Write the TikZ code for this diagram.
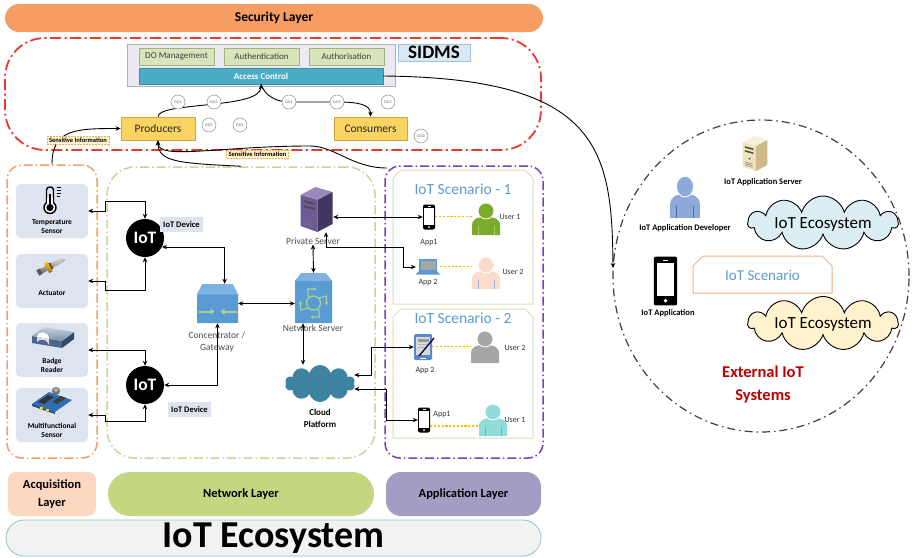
\documentclass[tikz,border=0pt]{standalone}
\usepackage{fontspec}
\setmainfont{Carlito}
\usetikzlibrary{arrows.meta,shapes.misc,shapes.symbols,shapes.geometric,calc}

% palette
\definecolor{secorange}{HTML}{F59D62}
\definecolor{secred}{HTML}{E8392F}
\definecolor{sidmsfill}{HTML}{EDE9F2}
\definecolor{sidmsbord}{HTML}{A8B5A8}
\definecolor{modfill}{HTML}{D8E4BC}
\definecolor{modbord}{HTML}{9FB47E}
\definecolor{acfill}{HTML}{4BACC6}
\definecolor{acbord}{HTML}{3A8FA6}
\definecolor{tagfill}{HTML}{DAE8F3}
\definecolor{tagbord}{HTML}{9DC3E6}
\definecolor{rolefill}{HTML}{FAD463}
\definecolor{rolebord}{HTML}{CFA740}
\definecolor{docirc}{HTML}{8C8C8C}
\definecolor{infofill}{HTML}{FFF2CC}
\definecolor{infobord}{HTML}{F5B042}
\definecolor{acqline}{HTML}{F79F6B}
\definecolor{netline}{HTML}{C3D69B}
\definecolor{appline}{HTML}{7B3FB8}
\definecolor{devfill}{HTML}{DDE4EF}
\definecolor{netblue}{HTML}{5B9BD5}
\definecolor{netbluelt}{HTML}{7FB2E0}
\definecolor{arrgreen}{HTML}{A9D18E}
\definecolor{cloudteal}{HTML}{3E84A2}
\definecolor{scenbord}{HTML}{D6E1BC}
\definecolor{titleblue}{HTML}{5B9BD5}
\definecolor{linkgold}{HTML}{FFC000}
\definecolor{ugreen}{HTML}{7AAB2B}
\definecolor{ugreenln}{HTML}{A8CF6A}
\definecolor{upeach}{HTML}{FBDCCB}
\definecolor{upeachln}{HTML}{9DB4D8}
\definecolor{ugray}{HTML}{A6A6A6}
\definecolor{ugrayln}{HTML}{8FA9D0}
\definecolor{ucyan}{HTML}{8FDCD8}
\definecolor{ucyanln}{HTML}{6FA8D0}
\definecolor{devblue}{HTML}{8EAADB}
\definecolor{devblueln}{HTML}{4A6A9A}
\definecolor{lapblue}{HTML}{5B9BD5}
\definecolor{tabblue}{HTML}{5A8AC6}
\definecolor{pstop}{HTML}{9A89BD}
\definecolor{psfront}{HTML}{6E5A96}
\definecolor{psside}{HTML}{44365F}
\definecolor{bgtop}{HTML}{F7F0DA}
\definecolor{bgfront}{HTML}{EFE3BE}
\definecolor{bgside}{HTML}{CDB98A}
\definecolor{badgetop}{HTML}{9CB3CF}
\definecolor{badgefront}{HTML}{47678C}
\definecolor{badgeside}{HTML}{2E4A6B}
\definecolor{pcbblue}{HTML}{2F6DB5}
\definecolor{acqfill}{HTML}{FCD8C2}
\definecolor{netfill}{HTML}{C4D680}
\definecolor{appfill}{HTML}{A29DC2}
\definecolor{ecofill}{HTML}{F2F2F2}
\definecolor{ecobord}{HTML}{84C8CC}
\definecolor{extline}{HTML}{404040}
\definecolor{cloudblue}{HTML}{DBEEF4}
\definecolor{cloudcream}{HTML}{FFF2CC}
\definecolor{scenpeach}{HTML}{F4B183}
\definecolor{extred}{HTML}{C00000}

\newcommand{\fsz}[2]{\fontsize{#1}{#2}\selectfont}

% top-snipped frame: [style]{x1}{y1}{x2}{y2}{cut}
\newcommand{\snipframe}[6][]{%
  \draw[#1] (#2,#5) -- (#2,#3+#6) -- (#2+#6,#3) -- (#4-#6,#3) -- (#4,#3+#6) -- (#4,#5) -- cycle;}

% handset
\newcommand{\phoneglyph}[2][1]{%
  \begin{scope}[shift={(#2)},scale=#1]
    \fill[black,rounded corners=2pt] (-6,-12.5) rectangle (6,12.5);
    \fill[white] (-4.6,-9) rectangle (4.6,7.6);
    \fill[white] (0,10.1) circle (1);
    \fill[white] (-1.5,-10.9) rectangle (1.5,-10.2);
  \end{scope}}

% user silhouette: [transform]{fill}{detail}{centre}
\newcommand{\personglyph}[4][]{%
  \begin{scope}[shift={(#4)},#1]
    \fill[#2] (-14,16) -- (-14,7) .. controls (-14,-1) and (-8,-2) .. (0,-2)
      .. controls (8,-2) and (14,-1) .. (14,7) -- (14,16) -- cycle;
    \draw[#3,line width=0.6pt] (-8,7) -- (-8,16) (8,7) -- (8,16);
    \fill[#2,draw=white,line width=0.8pt] (0,-8) circle (8);
  \end{scope}}

% notebook computer
\newcommand{\laptopglyph}[1]{%
  \begin{scope}[shift={(#1)}]
    \fill[lapblue] (-9,-8) rectangle (9,4);
    \fill[black!35] (-7.5,-6.5) rectangle (7.5,2.6);
    \fill[lapblue] (-9,4) -- (9,4) -- (12,7.5) -- (-12,7.5) -- cycle;
  \end{scope}}

% pen tablet
\newcommand{\tabletglyph}[1]{%
  \begin{scope}[shift={(#1)}]
    \fill[tabblue,rounded corners=1.5pt] (-9,-13) rectangle (9,13);
    \fill[black!15] (-7,-10) rectangle (7,8);
    \fill[black!40] (-5.5,-8.5) rectangle (5.5,-5);
    \fill[black!30] (-5.5,-3.5) rectangle (5.5,-2);
    \fill[black!30] (-5.5,-0.5) rectangle (2,1);
    \fill[white] (-3,10.5) rectangle (3,11.5);
    \draw[black!70!blue,line width=1.3pt] (-4,9) -- (11,-9);
  \end{scope}}

% tower server: {centre}{top}{front}{side}{scale}
\newcommand{\towerglyph}[5]{%
  \begin{scope}[shift={(#1)},scale=#5]
    \fill[#2] (-16,-15) -- (1,-10) -- (16,-18) -- (-1,-23) -- cycle;
    \fill[#3] (-16,-15) -- (1,-10) -- (1,22) -- (-16,16) -- cycle;
    \fill[#4] (1,-10) -- (16,-18) -- (16,14) -- (1,22) -- cycle;
    \fill[black!70] (-13,-10) -- (-2,-7) -- (-2,-5) -- (-13,-8) -- cycle;
    \fill[black!70] (-13,-5) -- (-2,-2) -- (-2,0) -- (-13,-3) -- cycle;
    \fill[black!60] (-7,6) circle (1.5);
    \draw[black!55,line width=0.4pt] (-13,10) -- (-3,13) (-13,12) -- (-3,15) (-13,14) -- (-3,17);
  \end{scope}}

\tikzset{
  region/.style={inner sep=0pt,line width=1.5pt,dash pattern=on 9pt off 3pt on 1.5pt off 3pt},
  modbox/.style={draw=modbord,fill=modfill,line width=0.6pt,minimum width=75pt,minimum height=17pt,
    inner sep=0pt,text=black!75,font=\fsz{9}{10}},
  rolebox/.style={draw=rolebord,fill=rolefill,line width=0.7pt,minimum width=74pt,minimum height=23pt,
    inner sep=0pt,text=black!85,font=\fsz{11.5}{12}},
  dotoken/.style={circle,draw=docirc,fill=white,line width=0.5pt,minimum size=14pt,inner sep=0pt,
    text=black!60,font=\fsz{4}{4}},
  infotag/.style={draw=infobord,fill=infofill,line width=0.6pt,dash pattern=on 2pt off 1pt,
    inner xsep=2pt,inner ysep=1.5pt,font=\bfseries\fsz{6.5}{7}},
  sensorbox/.style={fill=devfill,rounded corners=5pt,minimum width=72pt,minimum height=54pt,inner sep=0pt},
  senslabel/.style={inner sep=0pt,align=center,font=\bfseries\fsz{7.5}{9}},
  iotdot/.style={circle,fill=black,minimum size=38pt,inner sep=0pt,text=white,font=\bfseries\fsz{17.5}{18}},
  devtag/.style={fill=devfill,minimum height=15pt,inner xsep=3pt,inner ysep=0pt,font=\bfseries\fsz{8.5}{9}},
  graylabel/.style={inner sep=0pt,align=center,text=black!70,font=\fsz{9.5}{12}},
  blacklabel/.style={inner sep=0pt,align=center,font=\bfseries\fsz{9}{12}},
  small/.style={inner sep=0pt,text=black!80,font=\fsz{8}{9}},
  frame/.style={inner sep=0pt},
  wire/.style={line width=0.9pt},
  link/.style={wire,<->},
  goldlink/.style={draw=linkgold,line width=1.3pt,dash pattern=on 2.2pt off 1.6pt},
  scentitle/.style={inner sep=0pt,text=titleblue,font=\fsz{15.5}{16}},
  layerbar/.style={inner sep=0pt,align=center,minimum height=44pt,font=\bfseries\fsz{12.5}{18}},
  extlabel/.style={inner sep=0pt,align=center,font=\bfseries\fsz{8.5}{10}},
  bigcloud/.style={cloud,cloud puffs=11,cloud ignores aspect,draw=black,line width=0.9pt,
    minimum width=150pt,minimum height=54pt,inner sep=0pt},
}

\begin{document}
\begin{tikzpicture}[x=1pt,y=-1pt,>={Stealth[length=5pt,width=4.5pt]}]
\useasboundingbox (0,0) rectangle (912,557);
\fill[white] (0,0) rectangle (912,557);

% ---------- security layer ----------
\node[fill=secorange,rounded corners=14pt,minimum width=538pt,minimum height=28pt,inner sep=0pt,
  font=\bfseries\fsz{13.5}{14}] (seclayer) at (274,18) {Security Layer};
\node[region,draw=secred,line width=1.8pt,dash pattern=on 11pt off 3.5pt on 2pt off 3.5pt,
  rounded corners=40pt,minimum width=536pt,minimum height=112pt] (secreg) at (273,94) {};

\node[draw=sidmsbord,fill=sidmsfill,line width=0.8pt,minimum width=268pt,minimum height=42pt,
  inner sep=0pt] (sidms) at (261,65) {};
\node[modbox] (dom) at (176.5,56.5) {DO Management};
\node[modbox] (auth) at (261.5,56.5) {Authentication};
\node[modbox] (authz) at (346.5,56.5) {Authorisation};
\node[draw=acbord,fill=acfill,minimum width=244pt,minimum height=16pt,inner sep=0pt,text=white,
  font=\bfseries\fsz{9}{10}] (ac) at (261,76) {Access Control};
\node[draw=tagbord,fill=tagfill,minimum width=72pt,minimum height=17pt,inner sep=0pt,
  font=\bfseries\fsz{19}{19}] (sidmstag) at (434,52.5) {SIDMS};

\node[rolebox] (prod) at (158,128.5) {Producers};
\node[rolebox,minimum width=73pt] (cons) at (370.5,128.5) {Consumers};

% ---------- layer regions ----------
\node[region,draw=acqline,rounded corners=15pt,minimum width=90pt,minimum height=293pt] (acq) at (52,311.5) {};
\node[region,draw=netline,rounded corners=28pt,minimum width=268pt,minimum height=291pt] (net) at (241,312.5) {};
\node[region,draw=appline,rounded corners=15pt,minimum width=158pt,minimum height=292pt] (app) at (464,312) {};
\coordinate (appcorner) at (387,168);

% ---------- flows in the security layer ----------
\draw[wire,->] (prod.north) .. controls +(0,-15) and +(0,25) .. (ac.south);
\draw[wire] (ac.south) .. controls +(4,12) and +(-12,0) .. (289,102);
\draw[wire,->] (289,102) -- (337,102) .. controls +(22,0) and +(0,-12) .. (cons.north);
\draw[wire,->] (acq.north) .. controls +(0,-35) and +(-45,0) .. (prod.west);
\draw[wire,->] (net.north) .. controls +(-60,-3) and +(0,22) .. (prod.south);
\draw[wire,->] (appcorner) .. controls +(-35,0) and +(25,0) .. (310,146)
  .. controls +(-90,0) and +(0,20) .. (prod.south);

\node[dotoken] (doa) at (178,102) {DO1};
\node[dotoken] (dob) at (214,102) {DO3};
\node[dotoken] (doc) at (289,102) {DO1};
\node[dotoken] (dod) at (337,102) {DO3};
\node[dotoken] (doe) at (388,102) {DO2};
\node[dotoken] (dof) at (209,125) {DO2};
\node[dotoken] (dog) at (240,125) {DO4};
\node[dotoken] (doh) at (421,136) {DO2};

\node[infotag] (info1) at (78,140.5) {Sensitive Information};
\node[infotag] (info2) at (257.5,154) {Sensitive Information};

% ---------- acquisition layer ----------
\node[sensorbox] (temp) at (52,211) {};
\node[sensorbox] (act) at (52,281) {};
\node[sensorbox] (badge) at (52,350) {};
\node[sensorbox] (multi) at (52,415) {};
\node[senslabel] (templ) at (52,227) {Temperature\\Sensor};
\node[senslabel] (actl) at (52,293) {Actuator};
\node[senslabel] (badgel) at (52,365) {Badge\\Reader};
\node[senslabel] (multil) at (52,430) {Multifunctional\\Sensor};

% thermometer
\begin{scope}[shift={(50,199)}]
  \draw[line width=1.4pt,rounded corners=3pt] (-3.5,4) -- (-3.5,-12) -- (3.5,-12) -- (3.5,4);
  \draw[line width=1.4pt,fill=white] (0,8.5) circle (6);
  \fill[white] (-2.8,-1) rectangle (2.8,4.5);
  \fill (0,8.5) circle (3.6);
  \fill (-1.3,-5) rectangle (1.3,8);
  \draw[line width=1pt] (6.5,-12) -- (10.5,-12) (6.5,-9) -- (10.5,-9) (6.5,-6) -- (10.5,-6) (6.5,-3) -- (9.5,-3);
\end{scope}
% actuator
\begin{scope}[shift={(51,266)},rotate=28]
  \shade[top color=black!15,bottom color=black!60] (-14,-2.5) rectangle (12,2.5);
  \fill[black!65] (-15,-3) rectangle (-11,3);
  \shade[top color=black!10,bottom color=black!45] (12,-1.8) rectangle (15.5,1.8);
  \shade[top color=yellow!60!orange,bottom color=brown!80!black] (-5,-5.5) rectangle (-1,5.5);
  \fill[brown!60!black] (-1,-3.5) rectangle (1,3.5);
\end{scope}
% badge reader
\begin{scope}[shift={(53,339)}]
  \fill[badgefront] (-21,-3) -- (9,2) -- (9,9) -- (-21,4) -- cycle;
  \fill[badgeside] (9,2) -- (21,-7) -- (21,0) -- (9,9) -- cycle;
  \shade[top color=badgetop!60!white,bottom color=badgetop!80!black] (-21,-3) -- (-9,-12) -- (21,-7) -- (9,2) -- cycle;
  \fill[white] (-16,-2.2) .. controls (-15,-9) and (-4,-8) .. (-4,0) -- cycle;
  \fill[white!85!black] (-16,-2.2) -- (-4,0) -- (-4,6) .. controls (-6,0) and (-13,-1) .. (-16,3) -- cycle;
\end{scope}
% multifunctional board
\begin{scope}[shift={(52,401)}]
  \fill[pcbblue] (-20,3) -- (-3,-9) -- (20,-1) -- (3,11) -- cycle;
  \fill[pcbblue!70!black] (-20,3) -- (3,11) -- (3,13) -- (-20,5) -- cycle;
  \fill[black!80] (-14,1) -- (-4,-6) -- (2,-4) -- (-8,3) -- cycle;
  \fill[black!75] (0,1) -- (9,-5) -- (14,-3) -- (5,3) -- cycle;
  \fill[black!55] (4,-10) circle (4);
  \fill[black!30] (4,-11) circle (2);
  \fill[yellow!80!orange] (-12,6) rectangle (-9,7.5);
  \fill[yellow!80!orange] (-6,8) rectangle (-3,9.5);
\end{scope}

% ---------- network layer ----------
\node[iotdot] (iot1) at (145,238) {IoT};
\node[iotdot] (iot2) at (145,385) {IoT};
\node[devtag] (dev1) at (181.5,224.5) {IoT Device};
\node[devtag] (dev2) at (189.5,409.5) {IoT Device};

\node[frame,minimum width=41pt,minimum height=39pt] (conc) at (217.5,303.5) {};
\node[frame,minimum width=37pt,minimum height=50pt] (ns) at (313.5,298) {};
\node[frame,minimum width=33pt,minimum height=44pt] (ps) at (316.5,210) {};
\node[cloud,cloud puffs=10,cloud ignores aspect,fill=cloudteal,minimum width=70pt,minimum height=37pt,
  inner sep=0pt] (cloud) at (320,383.5) {};

% concentrator / gateway
\begin{scope}[shift={(conc.center)}]
  \fill[netblue] (-20.5,19.5) -- (-20.5,-9) -- (-15,-19.5) -- (15,-19.5) -- (20.5,-9) -- (20.5,19.5) -- cycle;
  \fill[netbluelt] (-20.5,-9) -- (-15,-19.5) -- (15,-19.5) -- (20.5,-9) -- cycle;
  \draw[arrgreen,line width=2pt,-{Triangle[length=4pt,width=6.5pt]}] (-19,8) -- (-3,8);
  \draw[arrgreen,line width=2pt,-{Triangle[length=4pt,width=6.5pt]}] (19,8) -- (3,8);
\end{scope}
% network server
\begin{scope}[shift={(ns.center)}]
  \fill[netblue] (-18.5,25) -- (-18.5,-17) -- (-12,-25) -- (12,-25) -- (18.5,-17) -- (18.5,25) -- cycle;
  \fill[netbluelt] (-18.5,-17) -- (-12,-25) -- (12,-25) -- (18.5,-17) -- cycle;
  \draw[arrgreen,line width=1.3pt] (0,5) circle (7);
  \draw[arrgreen,line width=1.1pt,-{Stealth[length=3pt,width=3.5pt]}] (-5,0) -- (-6,-9) -- (3,-9);
  \draw[arrgreen,line width=1.1pt,-{Stealth[length=3pt,width=3.5pt]}] (5,0) -- (13,-2) -- (13,7);
  \draw[arrgreen,line width=1.1pt,-{Stealth[length=3pt,width=3.5pt]}] (5,10) -- (6,19) -- (-3,19);
  \draw[arrgreen,line width=1.1pt,-{Stealth[length=3pt,width=3.5pt]}] (-5,10) -- (-13,12) -- (-13,3);
\end{scope}
% private server
\towerglyph{ps.center}{pstop}{psfront}{psside}{1}

\node[graylabel] (concl) at (217,342) {Concentrator /\\Gateway};
\node[graylabel] (nsl) at (313,328) {Network Server};
\node[graylabel] (psl) at (313,241) {Private Server};
\node[blacklabel] (cloudl) at (320,418) {Cloud\\Platform};

% links between devices and sensors
\draw[link] (temp.east) -- ++(17,0) -- ++(0,-10) -| (iot1.north);
\draw[link] (act.east) -- ++(17,0) -- ++(0,9) -| (iot1.south);
\draw[link] (badge.east) -| (iot2.north);
\draw[link] (multi.east) -- ++(17,0) -- ++(0,6) -| (iot2.south);
% links inside the network layer
\draw[link] (iot1.-28) -| (conc.70);
\draw[link] (iot2.east) -| (conc.south);
\draw[link] (conc.east) -- (conc.east -| ns.west);
\draw[link] (psl.south) -- (ns.north);
\draw[link] ([xshift=-10.5pt]ns.south) -- ([xshift=-10.5pt]ns.south |- cloud.north);

% ---------- application layer ----------
\snipframe[draw=scenbord,line width=1pt,fill=white]{393}{170}{533}{304}{8}
\snipframe[draw=scenbord,line width=1pt,fill=white]{393}{309}{533}{438}{8}
\node[scentitle] (sc1) at (463,189) {IoT Scenario - 1};
\node[scentitle] (sc2) at (463,318) {IoT Scenario - 2};

\node[frame,minimum width=12pt,minimum height=25pt] (appa) at (429,217) {};
\node[frame,minimum width=24pt,minimum height=16pt] (appb) at (428,267) {};
\node[frame,minimum width=18pt,minimum height=26pt] (appc) at (423,347) {};
\node[frame,minimum width=12pt,minimum height=25pt] (appd) at (424,420) {};
\node[frame,minimum width=28pt,minimum height=32pt] (usera) at (486,219) {};
\node[frame,minimum width=28pt,minimum height=32pt] (userb) at (486,273) {};
\node[frame,minimum width=28pt,minimum height=32pt] (userc) at (485,347) {};
\node[frame,minimum width=28pt,minimum height=32pt] (userd) at (493,420) {};

\draw[goldlink] ([yshift=0.5pt]appa.east) -- ([yshift=0.5pt]appa.east -| usera.west);
\draw[goldlink] ([yshift=0.5pt]appb.east) -- ([yshift=0.5pt]appb.east -| userb.west);
\draw[goldlink] ([yshift=0.5pt]appc.east) -- ([yshift=0.5pt]appc.east -| userc.west);
\draw[goldlink] ([yshift=-6pt]appd.east) -- ([yshift=-6pt]appd.east -| userd.west);

\phoneglyph{appa.center}
\laptopglyph{appb.center}
\tabletglyph{appc.center}
\phoneglyph{appd.center}
\personglyph{ugreen}{ugreenln}{usera.center}
\personglyph{upeach}{upeachln}{userb.center}
\personglyph{ugray}{ugrayln}{userc.center}
\personglyph{ucyan}{ucyanln}{userd.center}

\node[small] (appal) at (429,243) {App1};
\node[small] (appbl) at (428,283) {App 2};
\node[small] (appcl) at (425,371) {App 2};
\node[small] (appdl) at (442,415) {App1};
\node[small] (useral) at (510,217) {User 1};
\node[small] (userbl) at (513,272) {User 2};
\node[small] (usercl) at (515,348) {User 2};
\node[small] (userdl) at (515,420) {User 1};

\draw[link] (ps.east |- appa.west) -- (appa.west);
\draw[link] ([xshift=9.5pt]ps.south) -- ++(0,15) -- ++(77,0) |- (appb.west);
\draw[link] ([yshift=8.5pt]cloud.east) -- ++(17,0) |- (appc.west);
\draw[link] ([yshift=-5.5pt]cloud.east) -- ++(32,0) |- (appd.west);

% ---------- layer captions ----------
\node[layerbar,fill=acqfill,rounded corners=8pt,minimum width=88pt] (acqbar) at (52,494) {Acquisition\\Layer};
\node[layerbar,fill=netfill,rounded corners=22pt,minimum width=266pt] (netbar) at (241,494) {Network Layer};
\node[layerbar,fill=appfill,rounded corners=15pt,minimum width=155pt] (appbar) at (463.5,494) {Application Layer};
\node[draw=ecobord,fill=ecofill,line width=0.8pt,rounded corners=18pt,minimum width=535pt,minimum height=36pt,
  inner sep=0pt,font=\bfseries\fsz{38}{38}] (eco) at (273.5,538) {IoT Ecosystem};

% ---------- external IoT systems ----------
\node[ellipse,draw=extline,line width=1.2pt,dash pattern=on 8pt off 4pt on 1.5pt off 4pt,
  minimum width=296pt,minimum height=312pt,inner sep=0pt] (ext) at (761,276) {};
\coordinate (extin) at (613,268);
\draw[wire,->] (ac.east) .. controls (600,78) and (612,150) .. (extin);

\node[frame,minimum width=23pt,minimum height=38pt] (appsrv) at (755,154) {};
\towerglyph{appsrv.center}{bgtop}{bgfront}{bgside}{0.78}
\node[extlabel] (appsrvl) at (763,182) {IoT Application Server};

\node[frame,minimum width=30pt,minimum height=43pt] (devp) at (685,197) {};
\personglyph[xscale=1.07,yscale=1.3]{devblue}{devblueln}{devp.center}
\node[extlabel] (devpl) at (685,228) {IoT Application Developer};

\node[frame,minimum width=25pt,minimum height=48pt] (iotapp) at (665.5,281) {};
\phoneglyph[1.95]{iotapp.center}
\node[extlabel] (iotappl) at (668,313) {IoT Application};

\node[bigcloud,fill=cloudblue] (ecoa) at (823,223) {};
\node[inner sep=0pt,font=\fsz{17}{17}] (ecoal) at (823,224) {IoT Ecosystem};
\snipframe[draw=scenpeach,line width=1pt,fill=white]{693}{256}{832}{293}{10}
\node[scentitle,font=\fsz{15}{16}] (scext) at (762.5,275) {IoT Scenario};
\node[bigcloud,fill=cloudcream] (ecob) at (823,323.5) {};
\node[inner sep=0pt,font=\fsz{17}{17}] (ecobl) at (823,324.5) {IoT Ecosystem};

\node[inner sep=0pt,align=center,text=extred,font=\bfseries\fsz{16.5}{23}] (extl) at (763,384.5) {External IoT\\Systems};

\end{tikzpicture}
\end{document}
